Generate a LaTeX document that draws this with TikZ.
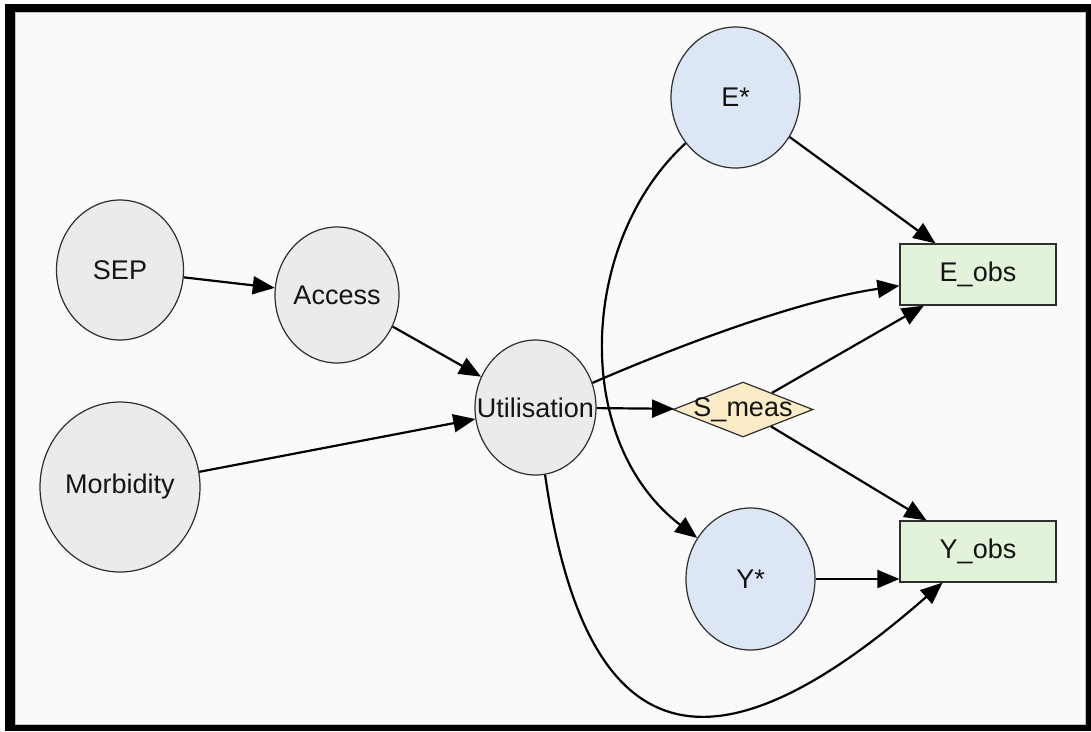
\documentclass[tikz,border=0pt]{standalone}
\usepackage{fontspec}
\setmainfont{Liberation Sans}
\usetikzlibrary{arrows.meta,shapes.geometric}

\definecolor{nodegray}{HTML}{EBEBEB}
\definecolor{nodeblue}{HTML}{DCE6F4}
\definecolor{nodecream}{HTML}{FBEBC6}
\definecolor{nodegreen}{HTML}{E3F2DA}
\definecolor{outline}{HTML}{2E2E2E}
\definecolor{paper}{HTML}{FAFAFA}

\begin{document}
\begin{tikzpicture}[x=1pt,y=-1pt,
  every node/.style={font=\fontsize{27}{31}\selectfont, text=black!92, inner sep=0pt},
  var/.style={ellipse, draw=outline, line width=1.2pt},
  latent/.style={var, fill=nodeblue},
  obsvar/.style={var, fill=nodegray},
  selbox/.style={diamond, draw=outline, line width=1.2pt, fill=nodecream,
    minimum width=140pt, minimum height=55pt},
  measbox/.style={rectangle, draw=outline, line width=1.2pt, fill=nodegreen,
    minimum width=156pt, minimum height=61pt},
  link/.style={line width=2.2pt, black, -{Triangle[length=22pt,width=18pt]}},
]
\useasboundingbox (0,0) rectangle (1091,731);

% frame and paper
\fill[black] (5,4) rectangle (1091,731);
\fill[paper] (15,12) rectangle (1085,724);
\draw[black!25, line width=0.8pt] (15,12) rectangle (1085,724);

% variables
\node[obsvar, minimum width=127pt, minimum height=140pt, label=center:SEP] (sep) at (120,270) {};
\node[obsvar, minimum width=124pt, minimum height=136pt, label=center:Access] (access) at (337,295) {};
\node[obsvar, minimum width=160pt, minimum height=170pt, label=center:Morbidity] (morb) at (120,487) {};
\node[obsvar, minimum width=121pt, minimum height=135pt, label=center:Utilisation] (util) at (535.5,407.5) {};
\node[latent, minimum width=129pt, minimum height=141pt, label=center:E*] (estar) at (735.5,97.5) {};
\node[latent, minimum width=129pt, minimum height=142pt, label=center:Y*] (ystar) at (750.5,579) {};
\node[selbox, label=center:S\_meas] (smeas) at (743,409.5) {};
\node[measbox, label=center:E\_obs] (eobs) at (978,274.5) {};
\node[measbox, label=center:Y\_obs] (yobs) at (978,551.5) {};

% causal links
\draw[link] (sep) -- (access);
\draw[link] (access) -- (util);
\draw[link] (morb) -- (util);
\draw[link] (util) -- (smeas);
\draw[link] (util) .. controls (680,345) and (800,300) .. (eobs);
\draw[link] (util) .. controls (590,790) and (740,760) .. (yobs);
\draw[link] (estar) .. controls (580,240) and (570,440) .. (ystar);
\draw[link] (estar) -- (eobs);
\draw[link] (smeas) -- (eobs);
\draw[link] (smeas) -- (yobs);
\draw[link] (ystar.east) -- (ystar.east -| yobs.west);
\end{tikzpicture}
\end{document}
